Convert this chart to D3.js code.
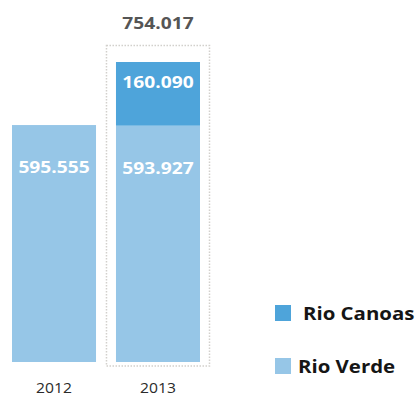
<!DOCTYPE html>
<html>
<head>
<meta charset="utf-8">
<script src="https://cdn.jsdelivr.net/npm/d3@7"></script>
<style>
  html, body { margin: 0; padding: 0; background: #fff; }
  svg { display: block; }
  text { font-family: "Open Sans", "Noto Sans", sans-serif; }
</style>
</head>
<body>
<svg id="chart" width="420" height="396"></svg>
<script>
// Volumes per year, stacked by river
const years = ["2012", "2013"];
const rioVerde = [595.555, 593.927];
const rioCanoas = [0, 160.090];
const seriesNames = ["Rio Verde", "Rio Canoas"];
const seriesColors = ["#96c6e7", "#4ea4da"];
const totalLabels = [null, "754.017"];
const fmt = v => v.toFixed(3);

const svg = d3.select("#chart");
const WIDE = 1.2; // horizontal stretch applied to the bold labels

const rows = years.map((y, i) => ({ year: y, "Rio Verde": rioVerde[i], "Rio Canoas": rioCanoas[i] }));
const stacked = d3.stack().keys(seriesNames)(rows);

const x = d3.scaleBand().domain(years).range([12, 200]).paddingInner(0.192).paddingOuter(0);
const yMax = d3.max(rows, r => r["Rio Verde"] + r["Rio Canoas"]);
const y = d3.scaleLinear().domain([0, yMax]).range([362, 62]);
const color = d3.scaleOrdinal().domain(seriesNames).range(seriesColors);

// dotted highlight frame around the latest year
const hl = years[years.length - 1];
svg.append("rect")
  .attr("x", x(hl) - 9.5)
  .attr("y", y(yMax) - 16.5)
  .attr("width", x.bandwidth() + 19)
  .attr("height", y(0) - y(yMax) + 20.5)
  .attr("fill", "none")
  .attr("stroke", "#d2d0cc")
  .attr("stroke-width", 1.5)
  .attr("stroke-dasharray", "1.5,1.5");

// stacked bars
const layer = svg.selectAll("g.layer").data(stacked).join("g")
  .attr("class", "layer")
  .attr("fill", d => color(d.key));

layer.selectAll("rect").data(d => d.filter(s => s[1] - s[0] > 0)).join("rect")
  .attr("x", d => x(d.data.year))
  .attr("y", d => y(d[1]))
  .attr("width", x.bandwidth())
  .attr("height", d => y(d[0]) - y(d[1]));

// values inside segments
stacked.forEach((s, si) => {
  svg.append("g").selectAll("text").data(s.filter(d => d[1] - d[0] > 0)).join("text")
    .attr("transform", d => `translate(${x(d.data.year) + x.bandwidth() / 2},${y(d[1]) + (si === 0 ? 42 : 20)}) scale(${WIDE},1)`)
    .attr("text-anchor", "middle")
    .attr("dominant-baseline", "central")
    .attr("fill", "#ffffff")
    .attr("font-size", 16)
    .attr("font-weight", 700)
    .text(d => fmt(d[1] - d[0]));
});

// stack totals
svg.append("g").selectAll("text").data(years.filter((_, i) => totalLabels[i])).join("text")
  .attr("transform", d => `translate(${x(d) + x.bandwidth() / 2},23) scale(${WIDE},1)`)
  .attr("text-anchor", "middle")
  .attr("dominant-baseline", "central")
  .attr("fill", "#555555")
  .attr("font-size", 16)
  .attr("font-weight", 700)
  .text(d => totalLabels[years.indexOf(d)]);

// year axis
const axis = svg.append("g")
  .attr("transform", `translate(0,${y(0)})`)
  .call(d3.axisBottom(x).tickSize(0).tickPadding(0));
axis.select(".domain").remove();
axis.selectAll("text")
  .attr("y", 25)
  .attr("dy", null)
  .attr("transform", "scale(1.12,1)")
  .attr("dominant-baseline", "central")
  .attr("fill", "#2b2b2b")
  .attr("font-size", 14)
  .style("font-family", "'Open Sans', sans-serif");

// legend
const legendItems = [
  { name: "Rio Canoas", y: 313, tx: 303 },
  { name: "Rio Verde", y: 366, tx: 298 }
];
const lg = svg.append("g").selectAll("g").data(legendItems).join("g");
lg.append("rect")
  .attr("x", 275)
  .attr("y", d => d.y - 8)
  .attr("width", 16)
  .attr("height", 16)
  .attr("fill", d => color(d.name));
lg.append("text")
  .attr("transform", d => `translate(${d.tx},${d.y}) scale(${WIDE},1)`)
  .attr("dominant-baseline", "central")
  .attr("fill", "#151515")
  .attr("font-size", 17)
  .attr("font-weight", 700)
  .text(d => d.name);
</script>
</body>
</html>
